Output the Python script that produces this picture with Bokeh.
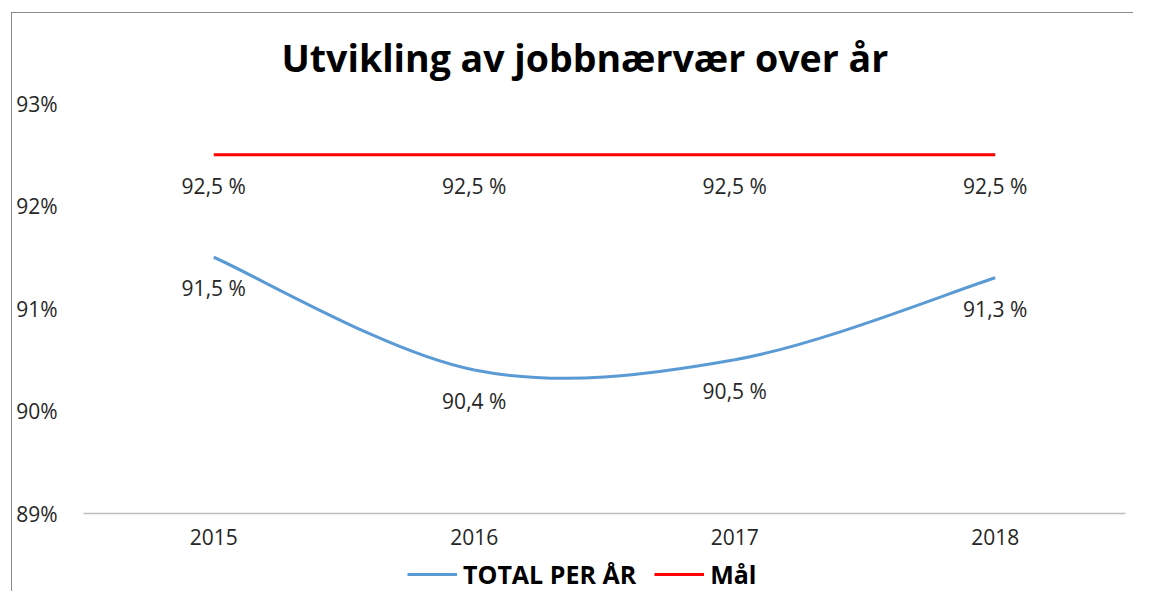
from bokeh.plotting import figure
from bokeh.layouts import column
from bokeh.models import (FixedTicker, PrintfTickFormatter, Legend, LegendItem, Range1d,
                          InlineStyleSheet)
from bokeh.core.properties import value
from bokeh.embed import file_html
from bokeh.resources import INLINE

# ---- data ----
years = ["2015", "2016", "2017", "2018"]
total_per_year = [91.5, 90.4, 90.5, 91.3]
goal = [92.5, 92.5, 92.5, 92.5]
y_ticks = [89, 90, 91, 92, 93]
series_names = ["TOTAL PER ÅR", "Mål"]

FONT = "Open Sans"
TEXT = "#262626"
BLUE = "#5B9BD5"
RED = "#FF0000"

xs = list(range(len(years)))
n = len(xs)

W = 1133
H_MAIN = 557
H_LEG = 34

p = figure(width=W, height=H_MAIN, output_backend="svg", toolbar_location=None,
           x_range=Range1d(-0.5, n - 0.5), y_range=Range1d(y_ticks[0], y_ticks[-1]),
           min_border_left=83, min_border_right=8, min_border_top=103,
           min_border_bottom=H_MAIN - 513)
p.outline_line_color = None
p.background_fill_color = "white"
p.border_fill_color = "white"
p.xgrid.grid_line_color = None
p.ygrid.grid_line_color = None

# title
p.title.text = "Utvikling av jobbnærvær over år"
p.title.align = "left"
p.title.offset = 198
p.title.text_font = FONT
p.title.text_font_size = "37.5px"
p.title.text_font_style = "bold"
p.title.text_color = "black"
if "standoff" in p.title.properties():
    p.title.standoff = 42

# x axis
p.xaxis.ticker = FixedTicker(ticks=xs)
p.xaxis.major_label_overrides = {i: y for i, y in zip(xs, years)}
p.xaxis.axis_line_color = "#bdbdbd"
p.xaxis.axis_line_width = 1.5
p.xaxis.major_tick_line_color = None
p.xaxis.minor_tick_line_color = None
p.xaxis.major_tick_out = 0
p.xaxis.major_tick_in = 0
p.xaxis.major_label_standoff = 15
p.xaxis.major_label_text_font = FONT
p.xaxis.major_label_text_font_size = "21px"
p.xaxis.major_label_text_color = TEXT

# y axis
p.yaxis.ticker = FixedTicker(ticks=y_ticks)
p.yaxis.formatter = PrintfTickFormatter(format="%d%%")
p.yaxis.axis_line_color = None
p.yaxis.major_tick_line_color = None
p.yaxis.minor_tick_line_color = None
p.yaxis.major_tick_out = 0
p.yaxis.major_tick_in = 0
p.yaxis.major_label_standoff = 26
p.yaxis.major_label_text_font = FONT
p.yaxis.major_label_text_font_size = "21px"
p.yaxis.major_label_text_color = TEXT

# smoothed line (Bezier segments, control points derived from neighbours)
def nb(i):
    return max(i - 1, 0), min(i + 1, n - 1)

x0, y0, x1, y1, cx0, cy0, cx1, cy1 = [], [], [], [], [], [], [], []
for i in range(n - 1):
    a_prev, _ = nb(i)
    _, b_next = nb(i + 1)
    x0.append(xs[i]); y0.append(total_per_year[i])
    x1.append(xs[i + 1]); y1.append(total_per_year[i + 1])
    cx0.append(xs[i] + (xs[i + 1] - xs[a_prev]) / 6)
    cy0.append(total_per_year[i] + (total_per_year[i + 1] - total_per_year[a_prev]) / 6)
    cx1.append(xs[i + 1] - (xs[b_next] - xs[i]) / 6)
    cy1.append(total_per_year[i + 1] - (total_per_year[b_next] - total_per_year[i]) / 6)

p.bezier(x0=x0, y0=y0, x1=x1, y1=y1, cx0=cx0, cy0=cy0, cx1=cx1, cy1=cy1,
         line_color=BLUE, line_width=3)
p.line(xs, goal, line_color=RED, line_width=3)

def fmt(v):
    return f"{v:.1f}".replace(".", ",") + " %"

p.text(xs, goal, text=[fmt(v) for v in goal], y_offset=31, text_align="center",
       text_baseline="middle", text_font=value(FONT), text_font_size="21px", text_color=TEXT)
p.text(xs, total_per_year, text=[fmt(v) for v in total_per_year], y_offset=31,
       text_align="center", text_baseline="middle", text_font=value(FONT),
       text_font_size="21px", text_color=TEXT)

# ---- legend strip below the chart (its series lie outside its own view) ----
pl = figure(width=W, height=H_LEG, output_backend="svg", toolbar_location=None,
            x_range=Range1d(0, 1), y_range=Range1d(0, 1),
            x_axis_location=None, y_axis_location=None,
            min_border=0, min_border_left=0, min_border_right=0,
            min_border_top=0, min_border_bottom=0)
pl.outline_line_color = None
pl.xgrid.grid_line_color = None
pl.ygrid.grid_line_color = None
l_total = pl.line(xs, total_per_year, line_color=BLUE, line_width=3)
l_goal = pl.line(xs, goal, line_color=RED, line_width=3)

legend = Legend(items=[LegendItem(label=series_names[0], renderers=[l_total]),
                       LegendItem(label=series_names[1], renderers=[l_goal])],
                orientation="horizontal", location=(324, 0),
                label_text_font=FONT, label_text_font_size="25px",
                label_text_font_style="bold", label_text_color="black",
                glyph_width=50, label_standoff=6, spacing=18,
                border_line_color=None, background_fill_alpha=0, margin=0, padding=0)
pl.add_layout(legend)

layout = column(p, pl, spacing=0)
# chart-area border: only the left and top edges are visible in the crop
layout.stylesheets = [InlineStyleSheet(css="""
:host { position: relative; }
:host::after { content: ""; position: absolute; left: 11px; top: 12px; right: 0; bottom: 0;
  border-left: 1px solid #8a8a8a; border-top: 1px solid #8a8a8a; pointer-events: none; }
""")]

open("out.html", "w").write(file_html(layout, INLINE))
